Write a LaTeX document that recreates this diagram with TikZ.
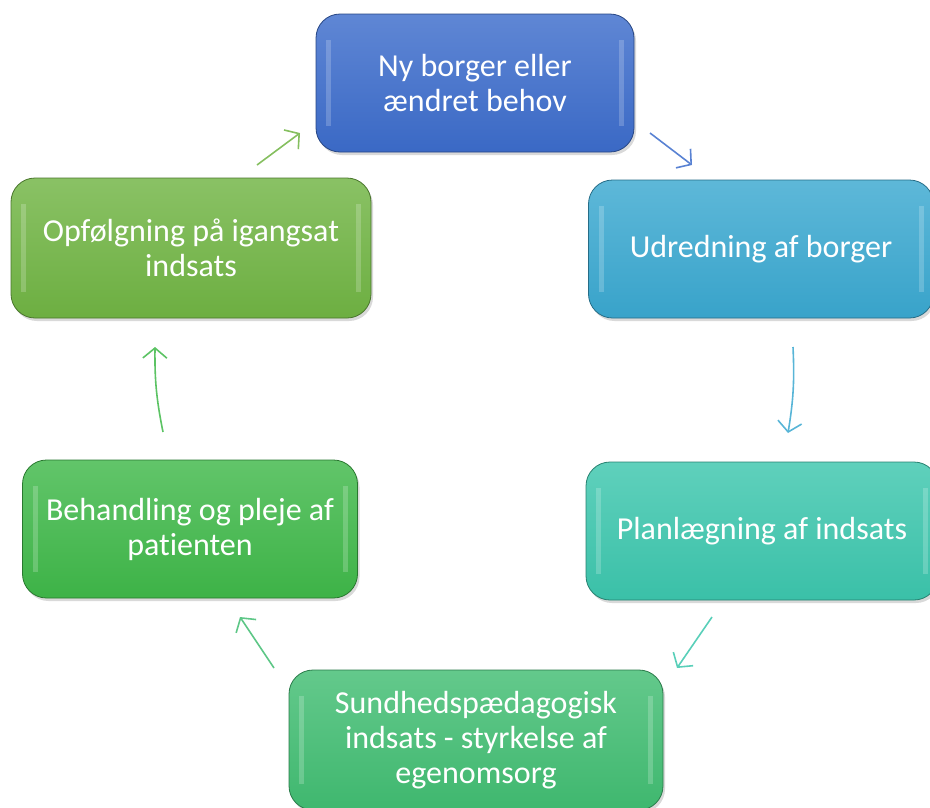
\documentclass[tikz,border=0pt]{standalone}
\usepackage{fontspec}
\setmainfont[Ligatures=NoCommon]{Carlito}
\usetikzlibrary{arrows.meta, shadows}
\definecolor{cblue}{HTML}{3C6CCB}
\definecolor{ccyan}{HTML}{3AA8D0}
\definecolor{cteal}{HTML}{3CC6AD}
\definecolor{cmint}{HTML}{41BD72}
\definecolor{cgreen}{HTML}{3FB849}
\definecolor{clime}{HTML}{70B443}
\tikzset{
      stage box/.style={
		rounded corners=24pt,
		minimum height=138pt,
		align=center,
		text=white,
		font=\fontsize{32}{35}\selectfont,
		draw=#1!65!black,
		line width=0.8pt,
		top color=#1!82!white,
		bottom color=#1!97!black,
		drop shadow={opacity=0.3, shadow xshift=2pt, shadow yshift=-3pt},
		path picture={
		  \fill[white, opacity=0.2, sharp corners] ([xshift=10pt,yshift=-26pt]path picture bounding box.north west) rectangle ([xshift=15pt,yshift=26pt]path picture bounding box.south west);
		  \fill[white, opacity=0.2, sharp corners] ([xshift=-15pt,yshift=-26pt]path picture bounding box.north east) rectangle ([xshift=-10pt,yshift=26pt]path picture bounding box.south east);
		},
	  },
  		cycle arrow/.style={
    	-{Straight Barb[length=10pt, width=24pt]},
    	line width=1.6pt,
    	draw=#1!85!white,
      }
  	}
\begin{document}
\begin{tikzpicture}[x=1pt, y=-1pt]
    \useasboundingbox (0,0) rectangle (930,807);
    \clip (0,0) rectangle (930,807);
    % boxes
    \node [stage box=cblue, minimum width=318pt] (b1) at (475,83) {Ny borger eller\\ændret behov};
    \node [stage box=ccyan, minimum width=345pt] (b2) at (761,249) {Udredning af borger};
    \node [stage box=cteal, minimum width=352pt] (b3) at (762,531) {Planlægning af indsats};
    \node [stage box=cmint, minimum width=374pt, minimum height=140pt] (b4) at (476,740) {Sundhedspædagogisk\\indsats - styrkelse af\\egenomsorg};
    \node [stage box=cgreen, minimum width=335pt] (b5) at (190,529) {Behandling og pleje af\\patienten};
    \node [stage box=clime, minimum width=360pt, minimum height=140pt] (b6) at (191,248) {Opfølgning på igangsat\\indsats};
    % arrow ends
    \coordinate (a1) at (650,133);
    \coordinate (e1) at (692,165);
    \coordinate (a2) at (793,347);
    \coordinate (e2) at (788,433);
    \coordinate (a3) at (712,617);
    \coordinate (e3) at (677,668);
    \coordinate (a4) at (274,668);
    \coordinate (e4) at (240,617);
    \coordinate (a5) at (163,432);
    \coordinate (e5) at (155,347);
    \coordinate (a6) at (257,165);
    \coordinate (e6) at (300,133);
    \draw [cycle arrow=cblue] (a1) -- (e1);
    \draw [cycle arrow=ccyan] (a2) to[bend left=6] (e2);
    \draw [cycle arrow=cteal] (a3) -- (e3);
    \draw [cycle arrow=cmint] (a4) -- (e4);
    \draw [cycle arrow=cgreen] (a5) to[bend left=6] (e5);
    \draw [cycle arrow=clime] (a6) -- (e6);
  \end{tikzpicture}
\end{document}
